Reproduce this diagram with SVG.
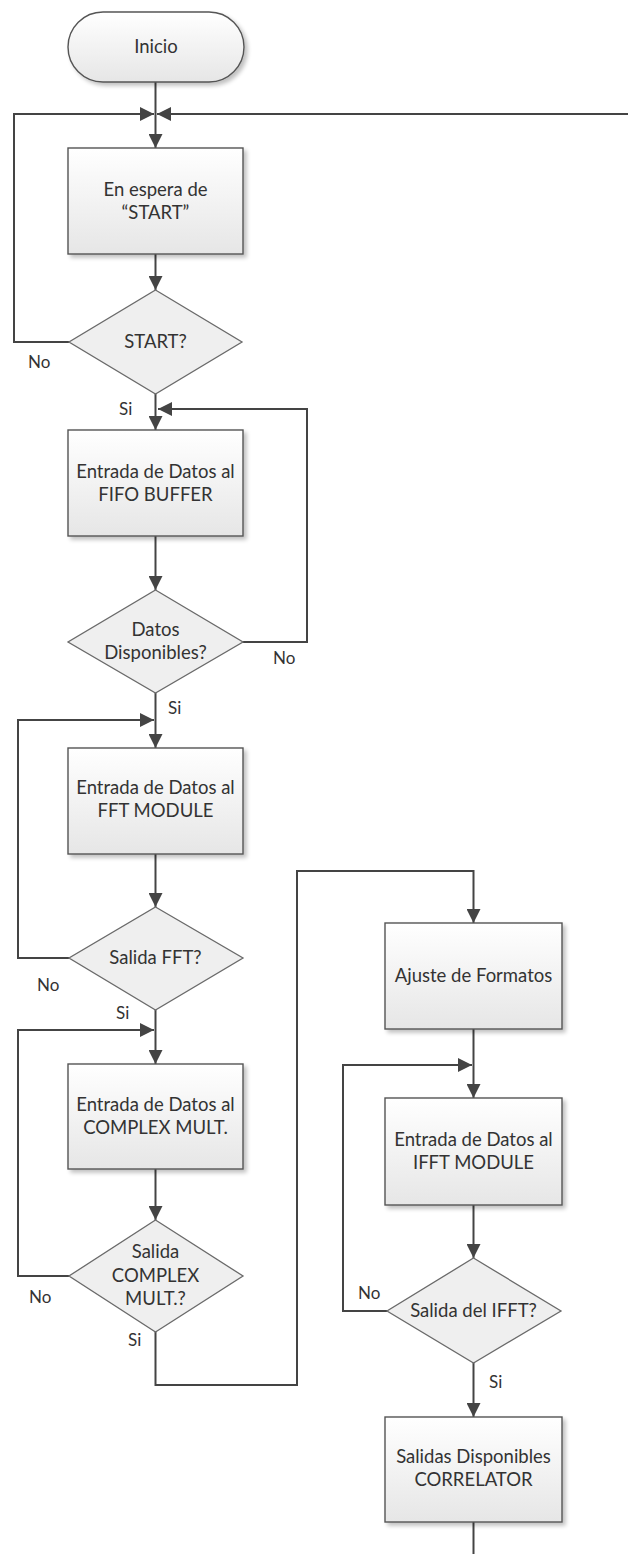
<svg xmlns="http://www.w3.org/2000/svg" width="628" height="1554" viewBox="0 0 628 1554">
  <style>
    .box { fill: url(#boxFill); stroke: #555; stroke-width: 1.4; filter: url(#shadow); }
    .dec { fill: #efefef; stroke: #6a6a6a; stroke-width: 1.3; }
    .t { font-family: Lato, "Open Sans", "Liberation Sans", sans-serif; font-size: 18.5px; fill: #333; text-anchor: middle; }
    .lbl { font-family: Lato, "Open Sans", "Liberation Sans", sans-serif; font-size: 17px; fill: #333; }
    .wire { fill: none; stroke: #444; stroke-width: 2; }
  </style>
  <defs>
    <linearGradient id="boxFill" x1="0" y1="0" x2="0" y2="1">
      <stop offset="0" stop-color="#ffffff"/>
      <stop offset="1" stop-color="#e6e6e6"/>
    </linearGradient>
    <filter id="shadow" x="-10%" y="-10%" width="125%" height="125%">
      <feGaussianBlur in="SourceAlpha" stdDeviation="2"/>
      <feOffset dx="3" dy="3" result="b"/>
      <feComponentTransfer><feFuncA type="linear" slope="0.25"/></feComponentTransfer>
      <feMerge><feMergeNode/><feMergeNode in="SourceGraphic"/></feMerge>
    </filter>
    <marker id="arrow" viewBox="0 0 14 14" refX="14" refY="7" markerWidth="14" markerHeight="14" markerUnits="userSpaceOnUse" orient="auto">
      <path d="M0,0 L14,7 L0,14 Z" fill="#444"/>
    </marker>
  </defs>

  <!-- connectors -->
  <g id="connectors" class="wire">
    <line x1="155.5" y1="82" x2="155.5" y2="148" marker-end="url(#arrow)"/>
    <polyline points="69,342 14,342 14,114 154,114" marker-end="url(#arrow)"/>
    <line x1="628" y1="114" x2="157" y2="114" marker-end="url(#arrow)"/>
    <line x1="155.5" y1="254" x2="155.5" y2="290" marker-end="url(#arrow)"/>
    <line x1="155.5" y1="394" x2="155.5" y2="430" marker-end="url(#arrow)"/>
    <polyline points="243,642 307,642 307,409 158,409" marker-end="url(#arrow)"/>
    <line x1="155.5" y1="536" x2="155.5" y2="590" marker-end="url(#arrow)"/>
    <line x1="155.5" y1="693" x2="155.5" y2="748" marker-end="url(#arrow)"/>
    <polyline points="69,958 18,958 18,720 154,720" marker-end="url(#arrow)"/>
    <line x1="155.5" y1="854" x2="155.5" y2="907" marker-end="url(#arrow)"/>
    <line x1="155.5" y1="1010" x2="155.5" y2="1064" marker-end="url(#arrow)"/>
    <polyline points="69,1276 18,1276 18,1030 154,1030" marker-end="url(#arrow)"/>
    <line x1="155.5" y1="1169" x2="155.5" y2="1220" marker-end="url(#arrow)"/>
    <polyline points="155.5,1332 155.5,1385 297,1385 297,871 473.5,871 473.5,923" marker-end="url(#arrow)"/>
    <line x1="473.5" y1="1029" x2="473.5" y2="1098" marker-end="url(#arrow)"/>
    <polyline points="387,1311 343,1311 343,1065 472,1065" marker-end="url(#arrow)"/>
    <line x1="473.5" y1="1205" x2="473.5" y2="1258" marker-end="url(#arrow)"/>
    <line x1="473.5" y1="1363" x2="473.5" y2="1417" marker-end="url(#arrow)"/>
    <line x1="473.5" y1="1522" x2="473.5" y2="1554"/>
  </g>

  <!-- branch labels -->
  <g id="labels">
    <text class="lbl" x="28" y="368">No</text>
    <text class="lbl" x="119" y="415">Si</text>
    <text class="lbl" x="273" y="664">No</text>
    <text class="lbl" x="168" y="714">Si</text>
    <text class="lbl" x="37" y="991">No</text>
    <text class="lbl" x="116" y="1019">Si</text>
    <text class="lbl" x="29" y="1303">No</text>
    <text class="lbl" x="128" y="1346">Si</text>
    <text class="lbl" x="358" y="1299">No</text>
    <text class="lbl" x="489" y="1388">Si</text>
  </g>

  <g id="inicio">
    <rect class="box" x="68" y="12" width="176" height="70" rx="35" ry="35"/>
    <text class="t" x="156" y="53">Inicio</text>
  </g>

  <g id="espera-start">
    <rect class="box" x="68" y="148" width="175" height="106"/>
    <text class="t" x="155.5" y="196">En espera de</text>
    <text class="t" x="155.5" y="219">“START”</text>
  </g>

  <g id="start-decision">
    <polygon class="dec" points="155.5,290 242,342 155.5,394 69,342"/>
    <text class="t" x="155.5" y="348">START?</text>
  </g>

  <g id="fifo-buffer">
    <rect class="box" x="68" y="430" width="175" height="106"/>
    <text class="t" x="155.5" y="478">Entrada de Datos al</text>
    <text class="t" x="155.5" y="501">FIFO BUFFER</text>
  </g>

  <g id="datos-decision">
    <polygon class="dec" points="155.5,590 243,642 155.5,693 68,642"/>
    <text class="t" x="155.5" y="636">Datos</text>
    <text class="t" x="155.5" y="659">Disponibles?</text>
  </g>

  <g id="fft-module">
    <rect class="box" x="68" y="748" width="175" height="106"/>
    <text class="t" x="155.5" y="794">Entrada de Datos al</text>
    <text class="t" x="155.5" y="817">FFT MODULE</text>
  </g>

  <g id="fft-decision">
    <polygon class="dec" points="155.5,907 243,958 155.5,1010 69,958"/>
    <text class="t" x="155.5" y="964">Salida FFT?</text>
  </g>

  <g id="complex-mult">
    <rect class="box" x="68" y="1064" width="175" height="105"/>
    <text class="t" x="155.5" y="1111">Entrada de Datos al</text>
    <text class="t" x="155.5" y="1134">COMPLEX MULT.</text>
  </g>

  <g id="complex-decision">
    <polygon class="dec" points="155.5,1220 243,1276 155.5,1332 69,1276"/>
    <text class="t" x="155.5" y="1258">Salida</text>
    <text class="t" x="155.5" y="1282">COMPLEX</text>
    <text class="t" x="155.5" y="1305">MULT.?</text>
  </g>

  <g id="ajuste-formatos">
    <rect class="box" x="385" y="923" width="177" height="106"/>
    <text class="t" x="473.5" y="982">Ajuste de Formatos</text>
  </g>

  <g id="ifft-module">
    <rect class="box" x="385" y="1098" width="177" height="107"/>
    <text class="t" x="473.5" y="1146">Entrada de Datos al</text>
    <text class="t" x="473.5" y="1169">IFFT MODULE</text>
  </g>

  <g id="ifft-decision">
    <polygon class="dec" points="473.5,1258 561,1311 473.5,1363 387,1311"/>
    <text class="t" x="473.5" y="1317">Salida del IFFT?</text>
  </g>

  <g id="correlator">
    <rect class="box" x="385" y="1417" width="177" height="105"/>
    <text class="t" x="473.5" y="1463">Salidas Disponibles</text>
    <text class="t" x="473.5" y="1486">CORRELATOR</text>
  </g>
</svg>
